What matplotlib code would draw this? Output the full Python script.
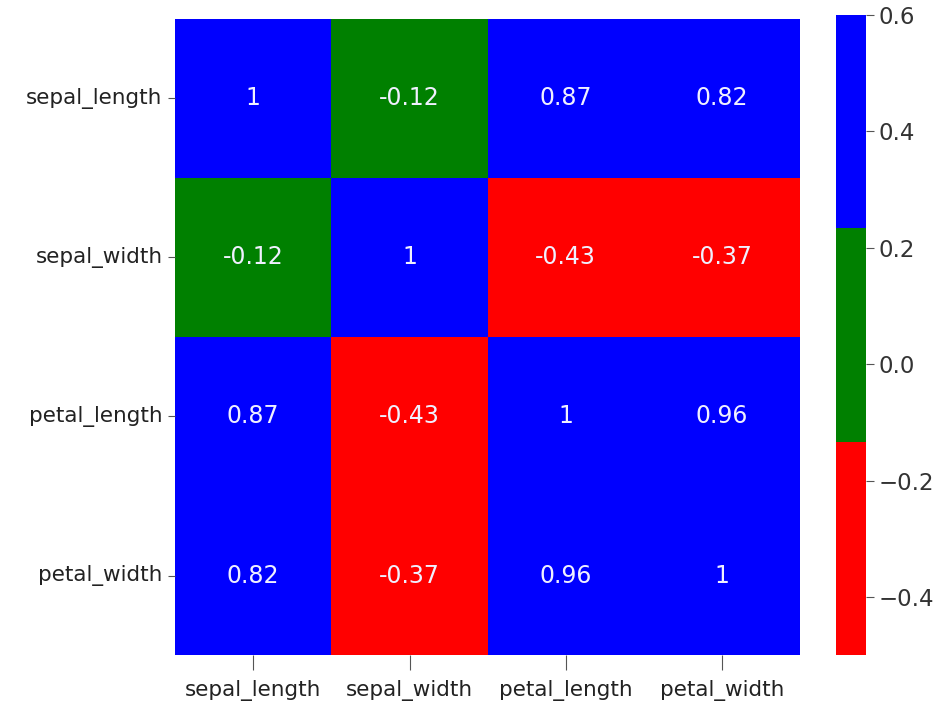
import matplotlib
matplotlib.use("Agg")
import matplotlib.pyplot as plt
import numpy as np
import seaborn as sns
from matplotlib.colors import ListedColormap

labels = ["sepal_length", "sepal_width", "petal_length", "petal_width"]
corr = np.array([
    [1.00, -0.12, 0.87, 0.82],
    [-0.12, 1.00, -0.43, -0.37],
    [0.87, -0.43, 1.00, 0.96],
    [0.82, -0.37, 0.96, 1.00],
])
colors = ["red", "green", "blue"]
vmin, vmax = -0.5, 0.6

fig = plt.figure(figsize=(9.36, 7.13), dpi=100)
ax = fig.add_axes([0.187, 0.081, 0.668, 0.893])
cax = fig.add_axes([0.893, 0.081, 0.032, 0.898])
sns.heatmap(corr, ax=ax, cbar_ax=cax, cmap=ListedColormap(colors), vmin=vmin, vmax=vmax,
            annot=True, annot_kws={"color": "white", "fontsize": 17},
            xticklabels=labels, yticklabels=labels)
for t in ax.texts:
    t.set_color("#f0f0ff")
ax.set_yticklabels(labels, rotation=0, fontsize=15.5, color="#222222")
ax.set_xticklabels(labels, rotation=0, fontsize=15.5, color="#222222")
ax.tick_params(axis="x", length=11, width=0.8, color="#555555", pad=7)
ax.tick_params(axis="y", length=5, width=0.8, color="#555555", pad=4)
cax.set_yticks([-0.4, -0.2, 0.0, 0.2, 0.4, 0.6])
cax.tick_params(labelsize=16.5, length=6, color="#555555", labelcolor="#333333")
fig.savefig("out.png", dpi=100)
